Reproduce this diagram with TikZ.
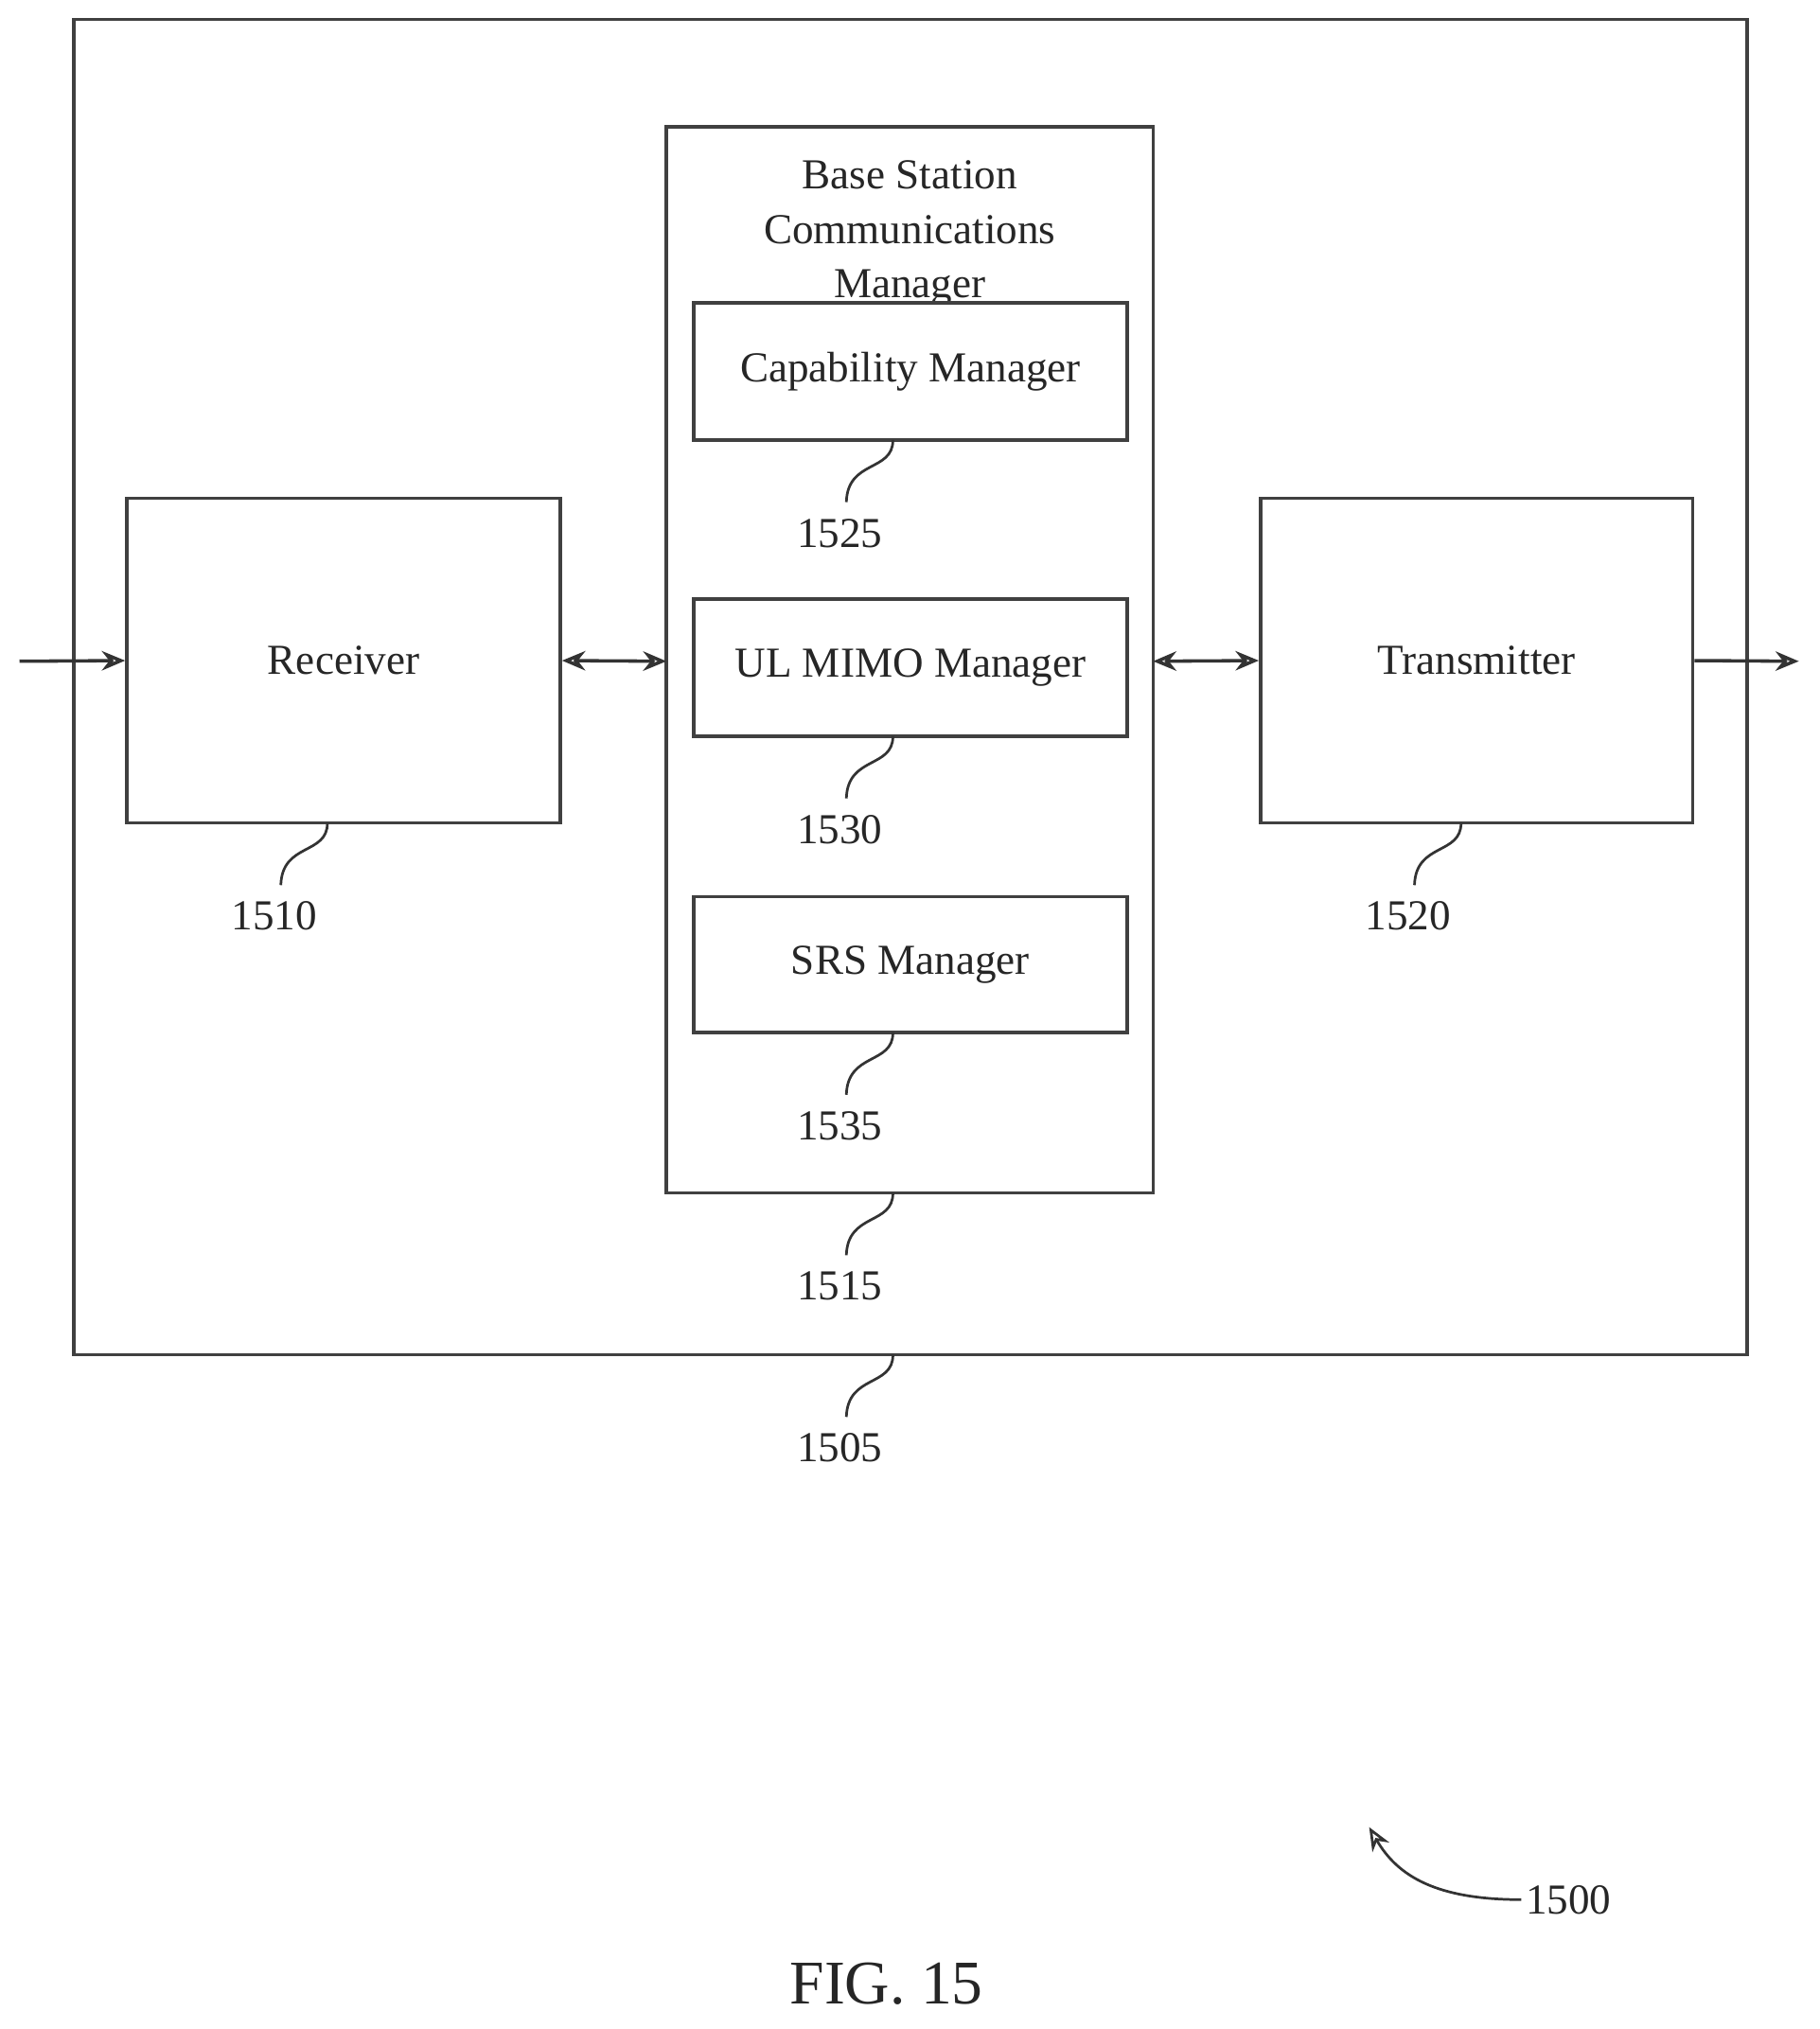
\documentclass[tikz,border=0pt]{standalone}
\usepackage{fontspec}
\setmainfont{Liberation Serif}
\usetikzlibrary{arrows.meta}
\begin{document}
\begin{tikzpicture}[x=1pt,y=-1pt,
  box/.style={draw=black!75,line width=2.6pt,fill=white},
  txt/.style={font=\fontsize{33}{42}\selectfont,text=black!85},
  lab/.style={font=\fontsize{33}{40}\selectfont,text=black!85},
  sq/.style={draw=black!80,line width=2pt},
  arr/.style={draw=black!80,line width=2.6pt,-{Stealth[length=18pt,width=15pt,open]}},
  darr/.style={draw=black!80,line width=2.6pt,{Stealth[length=18pt,width=15pt,open]}-{Stealth[length=18pt,width=15pt,open]}}]
\useasboundingbox (0,0) rectangle (1406,1568);
\draw[box,fill=none] (57,15) rectangle (1350,1047);
\node[box,minimum width=335pt,minimum height=251pt,txt] (rx) at (265.5,510.5) {Receiver};
\node[box,minimum width=334pt,minimum height=251pt,txt] (tx) at (1141,510.5) {Transmitter};
\draw[box] (515,98) rectangle (891,922);
\coordinate (bs) at (703,922);
\node[txt,align=center,anchor=north,inner sep=0pt] (bst) at (703,124) {Base Station\\Communications\\Manager};
\node[box,minimum width=335pt,minimum height=106pt,txt] (cap) at (703.5,287) {Capability Manager};
\node[box,minimum width=335pt,minimum height=106pt,txt] (ul) at (703.5,516) {UL MIMO Manager};
\node[box,minimum width=335pt,minimum height=105pt,txt] (srs) at (703.5,745.5) {SRS Manager};
\coordinate (inL) at (15,511); \coordinate (outR) at (1390,511);
\coordinate (bsL) at (515,511); \coordinate (bsR) at (891,511);
\draw[arr] (inL) -- (rx.west);
\draw[darr] (rx.east) -- (bsL);
\draw[darr] (bsR) -- (tx.west);
\draw[arr] (tx.east) -- (outR);
\foreach \n/\x/\y/\t in {c1/690/340/1525,c2/690/569/1530,c3/690/798/1535,c4/690/922/1515,c5/690/1047/1505,c6/253/636/1510,c7/1129/636/1520}{
  \coordinate (\n) at (\x,\y);
  \node[lab] (L\t) at (\x-41,\y+72) {\t};
  \draw[sq] (\n) .. controls (\x,\y+25) and (\x-35,\y+15) .. (\x-36,\y+48);
}
\node[lab] (l1500) at (1212,1468) {1500};
\coordinate (a1500) at (1058,1412);
\draw[arr,line width=2pt] (l1500.west) .. controls (1110,1468) and (1080,1450) .. (a1500);
\node[font=\fontsize{48}{54}\selectfont,text=black!85] (fig) at (685,1533) {FIG. 15};
\end{tikzpicture}
\end{document}
